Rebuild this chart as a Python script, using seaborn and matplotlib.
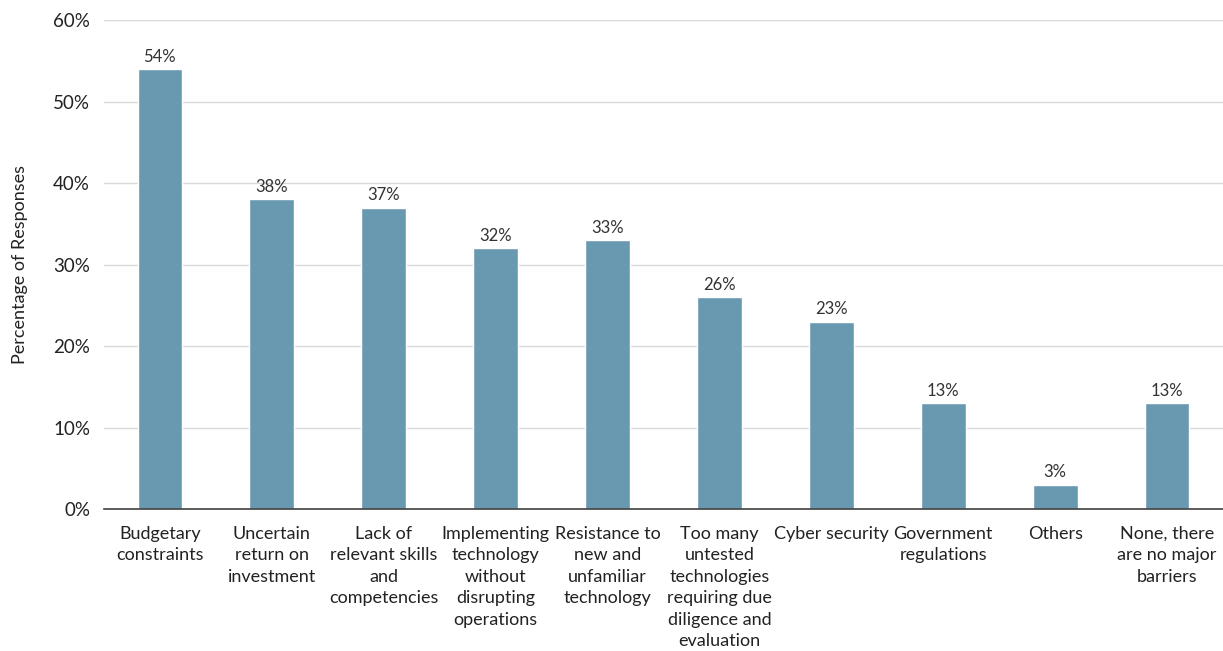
import matplotlib
matplotlib.use("Agg")
import matplotlib.pyplot as plt
import seaborn as sns
import pandas as pd

categories = [
    "Budgetary\nconstraints",
    "Uncertain\nreturn on\ninvestment",
    "Lack of\nrelevant skills\nand\ncompetencies",
    "Implementing\ntechnology\nwithout\ndisrupting\noperations",
    "Resistance to\nnew and\nunfamiliar\ntechnology",
    "Too many\nuntested\ntechnologies\nrequiring due\ndiligence and\nevaluation",
    "Cyber security",
    "Government\nregulations",
    "Others",
    "None, there\nare no major\nbarriers",
]
values = [54, 38, 37, 32, 33, 26, 23, 13, 3, 13]
yticks = [0, 10, 20, 30, 40, 50, 60]

sns.set_theme(style="white")
plt.rcParams["font.family"] = ["Lato", "DejaVu Sans"]

df = pd.DataFrame({"cat": categories, "val": values})

fig = plt.figure(figsize=(12.23, 6.51), dpi=100)
ax = fig.add_axes([0.085, 0.218, 0.915, 0.751])

sns.barplot(data=df, x="cat", y="val", color="#6899b0", width=0.4,
            saturation=1, ax=ax, zorder=3)

for i, v in enumerate(values):
    ax.text(i, v + 0.55, f"{v}%", ha="center", va="bottom", fontsize=12,
            color="#333333")

ax.set_ylim(0, 60)
ax.set_xlim(-0.5, 9.5)
ax.set_yticks(yticks)
ax.set_yticklabels([f"{t}%" for t in yticks], fontsize=13.5, color="#222222")
ax.set_xticks(range(len(categories)))
ax.set_xticklabels(categories, fontsize=13, color="#222222", linespacing=1.42)
ax.tick_params(axis="x", length=0, pad=12)
ax.tick_params(axis="y", length=0, pad=10)
ax.set_xlabel("")
ax.set_ylabel("Percentage of Responses", fontsize=13, color="#222222", labelpad=18)
ax.yaxis.grid(True, color="#d9d9d9", linewidth=1, zorder=0)
for s in ["top", "right", "left"]:
    ax.spines[s].set_visible(False)
ax.spines["bottom"].set_color("#404040")
ax.spines["bottom"].set_linewidth(1.2)
ax.spines["bottom"].set_zorder(4)

fig.savefig("out.png", dpi=100)
